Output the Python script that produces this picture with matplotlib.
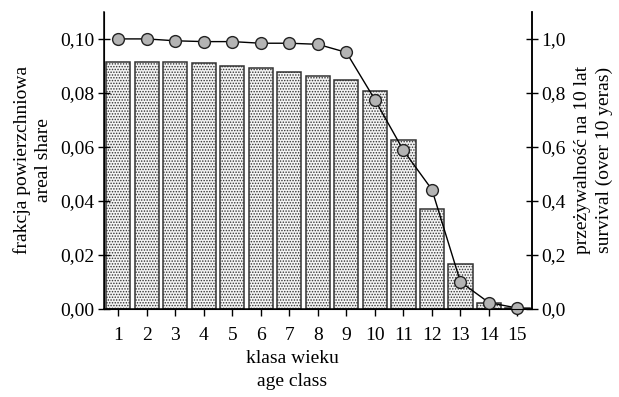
import numpy as np
import matplotlib.pyplot as plt
from matplotlib.ticker import FuncFormatter

plt.rcParams["font.family"] = ["Liberation Serif", "DejaVu Serif"]
plt.rcParams["hatch.color"] = "#606060"
plt.rcParams["hatch.linewidth"] = 0.7

# age classes and values
age_class = np.arange(1, 16)
areal_share = [0.0916, 0.0916, 0.0916, 0.0910, 0.0900, 0.0892, 0.0879,
               0.0863, 0.0848, 0.0807, 0.0625, 0.0369, 0.0165, 0.0021, 0.0003]
survival = [1.000, 1.000, 0.993, 0.990, 0.990, 0.984, 0.984,
            0.980, 0.950, 0.775, 0.587, 0.442, 0.100, 0.023, 0.003]

fig = plt.figure(figsize=(6.19, 3.97), dpi=100)
ax = fig.add_axes([0.168, 0.222, 0.691, 0.748])

ax.bar(age_class, areal_share, width=0.85, facecolor="#f4f4f4",
       edgecolor="#333333", linewidth=1.1, hatch="......")
ax.set_xlim(0.5, 15.5)
ax.set_ylim(0, 0.11)
ax.set_xticks(age_class)
ax.set_yticks(np.arange(0, 0.101, 0.02))
ax.yaxis.set_major_formatter(FuncFormatter(lambda v, p: f"{v:.2f}".replace(".", ",")))
ax.tick_params(axis="y", direction="inout", length=8, width=1, labelsize=14, pad=3)
ax.tick_params(axis="x", direction="out", length=5, width=1, labelsize=14, pad=8)
ax.spines["top"].set_visible(False)
for s in ("left", "bottom", "right"):
    ax.spines[s].set_linewidth(1.1)
ax.set_ylabel("frakcja powierzchniowa\nareal share", fontsize=14, labelpad=6,
              linespacing=1.3)
ax.set_xlabel("klasa wieku\nage class", fontsize=14, linespacing=1.45)
ax.xaxis.set_label_coords(0.44, -0.14, transform=ax.transAxes)
ax.xaxis.label.set_va("top")

ax2 = ax.twinx()
ax2.plot(age_class, survival, color="black", lw=1, marker="o", ms=8.5,
         mfc="#b4b4b4", mec="#222222", mew=1, clip_on=False)
ax2.set_ylim(0, 1.1)
ax2.set_yticks(np.arange(0, 1.01, 0.2))
ax2.yaxis.set_major_formatter(FuncFormatter(lambda v, p: f"{v:.1f}".replace(".", ",")))
ax2.tick_params(axis="y", direction="inout", length=8, width=1, labelsize=14, pad=3)
ax2.spines["top"].set_visible(False)
ax2.spines["right"].set_linewidth(1.1)
ax2.set_ylabel("przeżywalność na 10 lat\nsurvival (over 10 yeras)", fontsize=14,
               labelpad=6, linespacing=1.3)

fig.savefig("out.png", dpi=100)
